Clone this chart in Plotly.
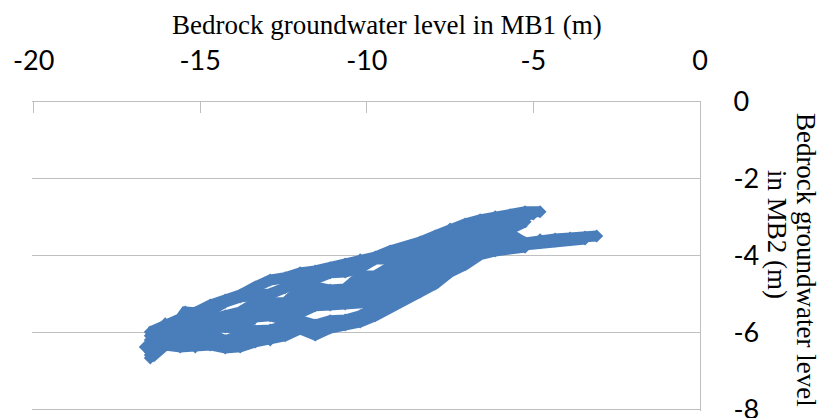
import plotly.graph_objects as go

# ---- axis ticks / titles ----
x_ticks = [-20, -15, -10, -5, 0]
y_ticks = [0, -2, -4, -6, -8]
x_title = "Bedrock groundwater level in MB1 (m)"
y_title_line1 = "Bedrock groundwater level"
y_title_line2 = "in MB2 (m)"

# ---- data: MB1 (x) vs MB2 (y) groundwater levels, read as strands of the cloud ----
mb1_s1 = [-16.5, -16.05, -15.6, -15.45, -15.15, -14.7, -14.25, -13.8, -13.35, -12.9, -12.45, -12.0, -11.55, -11.1,
          -10.65, -10.2, -9.75, -9.3, -8.85, -8.4, -7.95, -7.5, -7.05, -6.6, -6.15, -5.7, -5.25, -4.8]
mb2_s1 = [-5.99, -5.78, -5.65, -5.47, -5.49, -5.29, -5.16, -5.03, -4.82, -4.64, -4.58, -4.45, -4.40, -4.32,
          -4.22, -4.11, -4.04, -3.88, -3.80, -3.65, -3.49, -3.31, -3.18, -3.07, -2.99, -2.94, -2.86, -2.86]

mb1_s2 = [-16.5, -16.05, -15.6, -15.15, -14.7, -14.25, -13.8, -13.35, -12.9, -12.45, -12.0, -11.55, -11.1,
          -10.65, -10.2, -9.75, -9.3, -8.85, -8.4, -7.95, -7.5, -7.05, -6.6, -6.15, -5.7, -5.25, -5.0]
mb2_s2 = [-6.09, -5.86, -5.76, -5.63, -5.44, -5.21, -5.08, -5.03, -5.00, -4.84, -4.66, -4.61, -4.45,
          -4.43, -4.32, -4.09, -4.09, -3.98, -3.83, -3.67, -3.46, -3.33, -3.20, -3.12, -3.07, -2.94, -2.92]

mb1_s3 = [-16.5, -16.05, -15.6, -15.15, -14.7, -14.25, -13.8, -13.35, -12.9, -12.45, -12.0, -11.55, -11.1,
          -10.65, -10.2, -9.75, -9.3, -8.85, -8.4, -7.95, -7.5, -7.05, -6.6, -6.15, -5.7, -5.25]
mb2_s3 = [-6.20, -5.94, -5.86, -5.76, -5.60, -5.57, -5.47, -5.23, -5.26, -5.23, -4.87, -4.82, -4.90,
          -4.87, -4.53, -4.53, -4.30, -4.19, -4.01, -3.85, -3.62, -3.49, -3.33, -3.26, -3.18, -3.05]

mb1_s4 = [-16.5, -16.05, -15.6, -15.15, -14.7, -14.25, -13.8, -13.35, -12.9, -12.45, -12.0, -11.55, -11.1,
          -10.65, -10.2, -9.75, -9.3, -8.85, -8.4, -7.95, -7.5, -7.05, -6.6, -6.15, -5.7, -5.25]
mb2_s4 = [-6.30, -6.02, -5.96, -5.89, -5.76, -5.73, -5.73, -5.44, -5.47, -5.49, -5.08, -5.03, -5.13,
          -5.10, -4.77, -4.79, -4.51, -4.38, -4.19, -4.04, -3.78, -3.65, -3.46, -3.39, -3.31, -3.12]

mb1_s5 = [-16.65, -16.5, -16.05, -15.6, -15.15, -14.7, -14.25, -13.8, -13.35, -12.9, -12.45, -12.0, -11.55, -11.1,
          -10.65, -10.2, -9.75, -9.3, -8.85, -8.4, -7.95, -7.5, -7.05, -6.6, -6.15, -5.7, -5.25,
          -4.8, -4.35, -3.9, -3.45, -3.1]
mb2_s5 = [-6.38, -6.41, -6.09, -6.07, -6.02, -5.89, -5.86, -5.94, -5.60, -5.57, -5.68, -5.29, -5.13, -5.18,
          -5.16, -5.03, -5.03, -4.71, -4.58, -4.40, -4.19, -3.96, -3.78, -3.59, -3.49, -3.44, -3.67,
          -3.59, -3.57, -3.54, -3.52, -3.49]

mb1_s6 = [-16.5, -16.05, -15.6, -15.15, -14.7, -14.25, -13.8, -13.35, -12.9, -12.45, -12.0, -11.55, -11.1,
          -10.65, -10.2, -9.75, -9.3, -8.85, -8.4, -7.95, -7.5, -7.05, -6.6, -6.15, -5.7, -5.25,
          -4.8, -4.35, -3.9, -3.45]
mb2_s6 = [-6.51, -6.17, -6.17, -6.12, -6.04, -6.22, -6.09, -5.96, -5.94, -5.83, -5.49, -5.31, -5.29,
          -5.26, -5.21, -5.21, -4.92, -4.77, -4.58, -4.38, -4.11, -3.93, -3.72, -3.62, -3.57, -3.72,
          -3.67, -3.62, -3.59, -3.57]

mb1_s7 = [-16.5, -16.05, -15.6, -15.15, -14.7, -14.25, -13.8, -13.35, -12.9, -12.45, -12.0, -11.55, -11.1,
          -10.65, -10.2, -9.75, -9.3, -8.85, -8.4, -7.95, -7.5, -7.05, -6.6, -6.15, -5.7, -5.25]
mb2_s7 = [-6.59, -6.25, -6.28, -6.25, -6.20, -6.33, -6.25, -6.15, -6.09, -5.96, -5.70, -5.81, -5.70,
          -5.68, -5.57, -5.34, -5.13, -4.95, -4.77, -4.56, -4.27, -4.09, -3.85, -3.75, -3.67, -3.78]

mb1_s8 = [-16.5, -16.05, -15.6, -15.15, -14.7, -14.25, -13.8, -13.35, -12.9, -12.45, -12.0, -11.55, -11.1,
          -10.65, -10.2, -9.75, -9.3, -8.85, -8.4, -7.95, -7.5, -7.05, -6.6, -6.15, -5.7, -5.25]
mb2_s8 = [-6.67, -6.33, -6.38, -6.38, -6.33, -6.41, -6.38, -6.25, -6.20, -6.09, -5.91, -6.07, -5.89,
          -5.81, -5.73, -5.57, -5.34, -5.13, -4.95, -4.74, -4.43, -4.24, -3.98, -3.88, -3.80, -3.78]

strands = [(mb1_s1, mb2_s1), (mb1_s2, mb2_s2), (mb1_s3, mb2_s3), (mb1_s4, mb2_s4),
           (mb1_s5, mb2_s5), (mb1_s6, mb2_s6), (mb1_s7, mb2_s7), (mb1_s8, mb2_s8)]

BLUE = "#4A7EBB"
GRID = "#BFBFBF"

fig = go.Figure()
for xs, ys in strands:
    fig.add_trace(go.Scatter(
        x=xs, y=ys, mode="lines+markers",
        line=dict(color=BLUE, width=11),
        marker=dict(symbol="diamond", size=10, color=BLUE, line=dict(width=0)),
        showlegend=False, hoverinfo="skip",
    ))

tick_font = dict(family="Lato, Carlito, Calibri, sans-serif", size=27, color="#000000")
title_font = dict(family="Liberation Serif, Times New Roman, serif", size=27, color="#000000")

fig.update_layout(
    width=824, height=418,
    margin=dict(l=32, r=124, t=102, b=7, autoexpand=False),
    paper_bgcolor="white", plot_bgcolor="white",
    showlegend=False,
    xaxis=dict(
        range=[-20.05, 0], side="top", tickvals=x_ticks, ticktext=[str(v) for v in x_ticks],
        ticks="inside", ticklen=11, tickwidth=1, tickcolor=GRID,
        showline=True, linecolor=GRID, linewidth=1, automargin=False,
        showgrid=False, zeroline=False, tickfont=tick_font, ticklabelstandoff=20,
        ticklabeloverflow="allow",
    ),
    yaxis=dict(
        range=[-8.05, 0], side="right", tickvals=y_ticks, ticktext=[str(v) for v in y_ticks],
        ticks="outside", ticklen=27, tickcolor="rgba(0,0,0,0)",
        showline=True, linecolor=GRID, linewidth=1, automargin=False,
        showgrid=True, gridcolor=GRID, gridwidth=1, zeroline=False,
        tickfont=tick_font, ticklabeloverflow="allow",
    ),
    annotations=[
        dict(text=x_title, xref="paper", yref="paper", x=0.532, y=1.249,
             xanchor="center", yanchor="middle", showarrow=False, font=title_font),
        dict(text=y_title_line1, xref="paper", yref="paper", x=1.1587, y=0.489,
             xanchor="center", yanchor="middle", showarrow=False, font=title_font, textangle=90),
        dict(text=y_title_line2, xref="paper", yref="paper", x=1.115, y=0.570,
             xanchor="center", yanchor="middle", showarrow=False, font=title_font, textangle=90),
    ],
)

# remove the browser's default 8px body margin so the 824x418 figure fills the window exactly
fig.write_html(
    "out.html",
    config={"displayModeBar": False, "staticPlot": True},
    post_script="document.body.style.margin='0px';document.body.style.overflow='hidden';",
)
